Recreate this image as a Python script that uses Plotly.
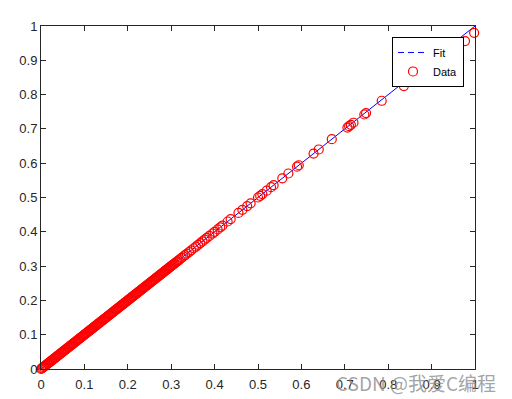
import plotly.graph_objects as go

# Dense part of the data (outputs coincide with targets at pixel resolution)
target_dense = [
    0.000, 0.002, 0.004, 0.006, 0.008, 0.010, 0.012, 0.014, 0.016, 0.018,
    0.020, 0.022, 0.024, 0.026, 0.028, 0.030, 0.032, 0.034, 0.036, 0.038,
    0.040, 0.042, 0.044, 0.046, 0.048, 0.050, 0.052, 0.054, 0.056, 0.058,
    0.060, 0.062, 0.064, 0.066, 0.068, 0.070, 0.072, 0.074, 0.076, 0.078,
    0.080, 0.082, 0.084, 0.086, 0.088, 0.090, 0.092, 0.094, 0.096, 0.098,
    0.100, 0.102, 0.104, 0.106, 0.108, 0.110, 0.112, 0.114, 0.116, 0.118,
    0.120, 0.122, 0.124, 0.126, 0.128, 0.130, 0.132, 0.134, 0.136, 0.138,
    0.140, 0.142, 0.144, 0.146, 0.148, 0.150, 0.152, 0.154, 0.156, 0.158,
    0.160, 0.162, 0.164, 0.166, 0.168, 0.170, 0.172, 0.174, 0.176, 0.178,
    0.180, 0.182, 0.184, 0.186, 0.188, 0.190, 0.192, 0.194, 0.196, 0.198,
    0.200, 0.202, 0.204, 0.206, 0.208, 0.210, 0.212, 0.214, 0.216, 0.218,
    0.220, 0.222, 0.224, 0.226, 0.228, 0.230, 0.232, 0.234, 0.236, 0.238,
    0.240, 0.242, 0.244, 0.246, 0.248, 0.250, 0.252, 0.254, 0.256, 0.258,
    0.260, 0.262, 0.264, 0.266, 0.268, 0.270, 0.272, 0.274, 0.276, 0.278,
    0.280, 0.282, 0.284, 0.286, 0.288, 0.290, 0.292, 0.294, 0.296, 0.298,
    0.300, 0.302, 0.304, 0.306, 0.308, 0.311, 0.314, 0.317, 0.320, 0.324,
    0.328, 0.332,
]
output_dense = list(target_dense)

# Sparse part of the data
target_sparse = [
    0.336, 0.341, 0.346, 0.352, 0.357, 0.362, 0.367, 0.372, 0.377, 0.382,
    0.388, 0.395, 0.400, 0.407, 0.413, 0.418, 0.430, 0.437, 0.455, 0.464,
    0.475, 0.483, 0.500, 0.505, 0.510, 0.520, 0.530, 0.536, 0.556, 0.570,
    0.590, 0.594, 0.628, 0.640, 0.670, 0.706, 0.710, 0.714, 0.720, 0.745,
    0.749, 0.785, 0.836, 0.977, 0.998,
]
output_sparse = [
    0.336, 0.341, 0.346, 0.352, 0.357, 0.362, 0.367, 0.372, 0.377, 0.382,
    0.388, 0.395, 0.400, 0.407, 0.413, 0.418, 0.430, 0.437, 0.455, 0.464,
    0.475, 0.483, 0.500, 0.505, 0.510, 0.520, 0.530, 0.536, 0.556, 0.570,
    0.590, 0.594, 0.628, 0.640, 0.670, 0.704, 0.708, 0.712, 0.718, 0.742,
    0.746, 0.782, 0.825, 0.956, 0.980,
]

target = target_dense + target_sparse
output = output_dense + output_sparse

fit_x = [0, 1]
fit_y = [0, 1]

tick_vals = [0, 0.1, 0.2, 0.3, 0.4, 0.5, 0.6, 0.7, 0.8, 0.9, 1]
tick_text = ["0", "0.1", "0.2", "0.3", "0.4", "0.5", "0.6", "0.7", "0.8", "0.9", "1"]

fig = go.Figure()

# fit line drawn in plot (solid-looking), hidden from legend
fig.add_trace(go.Scatter(
    x=fit_x, y=fit_y, mode="lines",
    line=dict(color="#0000ff", width=1),
    showlegend=False, hoverinfo="skip",
))
# legend entry for fit (dashed)
fig.add_trace(go.Scatter(
    x=[None], y=[None], mode="lines", name="Fit",
    line=dict(color="#0000ff", width=1, dash="6px,4px"),
))
fig.add_trace(go.Scatter(
    x=target, y=output, mode="markers", name="Data",
    marker=dict(symbol="circle-open", size=9, color="#ff0000",
                line=dict(width=1.2, color="#ff0000")),
    cliponaxis=False,
))

axis_common = dict(
    range=[0, 1], tickvals=tick_vals, ticktext=tick_text,
    showgrid=False, zeroline=False, automargin=False,
    showline=True, linecolor="#262626", linewidth=1, mirror="ticks",
    ticks="inside", ticklen=5, tickcolor="#262626",
    tickfont=dict(family="Liberation Sans, Arial, sans-serif", size=13, color="#262626"),
)

fig.update_layout(
    width=512, height=399,
    margin=dict(l=41, r=37, t=26, b=30),
    paper_bgcolor="white", plot_bgcolor="white",
    xaxis=dict(**axis_common, ticklabelstandoff=3),
    yaxis=dict(**axis_common),
    legend=dict(
        x=(464 - 41) / 434, xanchor="right", y=0.968, yanchor="top",
        bgcolor="white", bordercolor="#000000", borderwidth=1,
        font=dict(family="Liberation Sans, Arial, sans-serif", size=11, color="#000000"),
        tracegroupgap=0, itemwidth=30,
    ),
    annotations=[dict(
        text="CSDN @我爱C编程",
        x=(498 - 41) / 434, y=(369 - 382) / 343,
        xref="paper", yref="paper", xanchor="right", yanchor="middle",
        showarrow=False,
        font=dict(family="Noto Sans CJK SC, sans-serif", size=19, color="rgba(140,140,140,0.8)"),
    )],
)

fig.write_html("out.html")
